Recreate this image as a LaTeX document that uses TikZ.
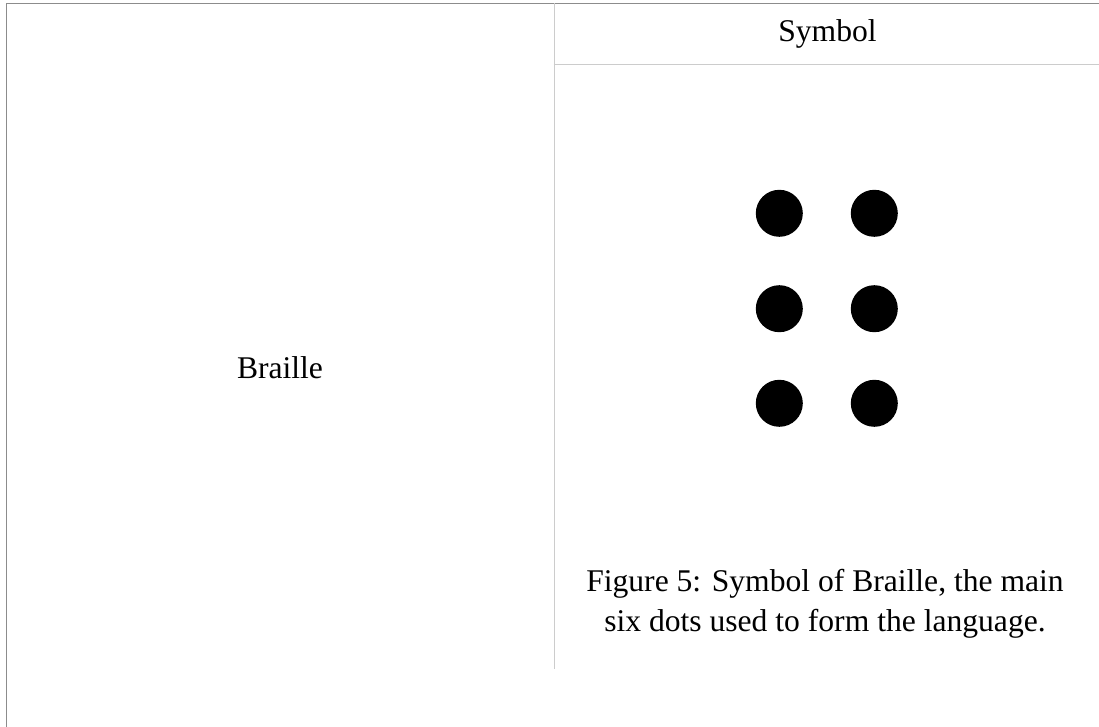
\documentclass[tikz,border=0pt]{standalone}
\usepackage{fontspec}
\setmainfont{Liberation Serif}
\begin{document}
\begin{tikzpicture}[x=1pt,y=-1pt,
  outer/.style={draw=black!45,line width=1.6pt},
  inner/.style={draw=black!20,line width=1.4pt},
  dot/.style={circle,fill=black,minimum size=47pt,inner sep=0pt},
  lbl/.style={font=\fontsize{31.6}{40}\selectfont,inner sep=0pt}]
\useasboundingbox (0,0) rectangle (1099,727);
\coordinate (tl) at (6.5,3.5);
\coordinate (tr) at (1099,3.5);
\coordinate (bl) at (6.5,727);
\draw[outer] (bl) -- (tl) -- (tr);
\coordinate (vt) at (554.5,3.5);
\coordinate (vb) at (554.5,669);
\draw[inner] (vt) -- (vb);
\coordinate (hl) at (553.5,64.5);
\coordinate (hr) at (1099,64.5);
\draw[inner] (hl) -- (hr);
\node[lbl] (symbol) at (827.5,34) {Symbol};
\node[lbl] (braille) at (280,368) {Braille};
\node[dot] (d1) at (779.3,213.3) {};
\node[dot] (d2) at (874.3,213.3) {};
\node[dot] (d3) at (779.3,308.7) {};
\node[dot] (d4) at (874.3,308.7) {};
\node[dot] (d5) at (779.3,403.3) {};
\node[dot] (d6) at (874.3,403.3) {};
\node[lbl,align=center] (cap) at (825,604) {Figure 5: Symbol of Braille, the main\\six dots used to form the language.};
\end{tikzpicture}
\end{document}
